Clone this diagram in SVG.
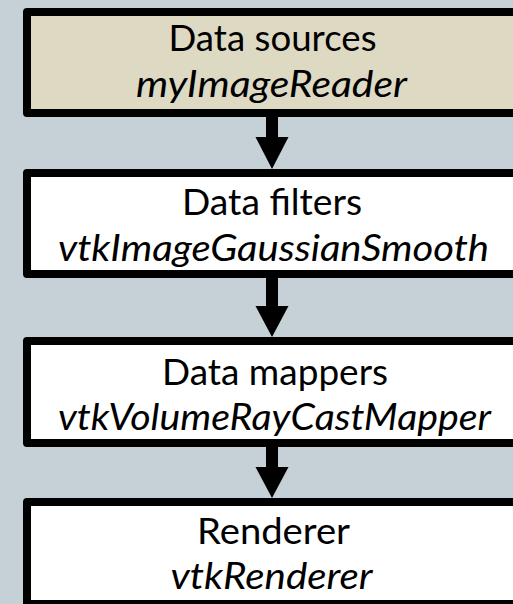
<svg xmlns="http://www.w3.org/2000/svg" width="513" height="604" viewBox="0 0 513 604">
<style>
.box{stroke:#000;stroke-width:8;stroke-linejoin:round}
.t{font-family:Lato,"Liberation Sans",sans-serif;font-size:37px;fill:#000;text-anchor:middle}
.i{font-style:italic}
.arr{fill:#000}
</style>
<rect x="0" y="0" width="513" height="604" fill="#C5D0D7"/>
<g id="node-sources">
<rect class="box" x="27" y="12" width="492" height="101" fill="#DDD9C3"/>
<text class="t" x="272.5" y="51" textLength="208" lengthAdjust="spacingAndGlyphs">Data sources</text>
<text class="t i" x="271.5" y="97" textLength="271" lengthAdjust="spacingAndGlyphs">myImageReader</text>
</g>
<g id="node-filters">
<rect class="box" x="27" y="173" width="492" height="101" fill="#FFFFFF"/>
<text class="t" x="272" y="215" textLength="180" lengthAdjust="spacingAndGlyphs">Data filters</text>
<text class="t i" x="273.5" y="261" textLength="431" lengthAdjust="spacingAndGlyphs">vtkImageGaussianSmooth</text>
</g>
<g id="node-mappers">
<rect class="box" x="27" y="341" width="492" height="102" fill="#FFFFFF"/>
<text class="t" x="275" y="385" textLength="226" lengthAdjust="spacingAndGlyphs">Data mappers</text>
<text class="t i" x="274.5" y="430" textLength="433" lengthAdjust="spacingAndGlyphs">vtkVolumeRayCastMapper</text>
</g>
<g id="node-renderer">
<rect class="box" x="27" y="502" width="492" height="102" fill="#FFFFFF"/>
<text class="t" x="273.5" y="544" textLength="153" lengthAdjust="spacingAndGlyphs">Renderer</text>
<text class="t i" x="271.5" y="589" textLength="202" lengthAdjust="spacingAndGlyphs">vtkRenderer</text>
</g>
<g id="connectors">
<path class="arr" d="M266 117H278V137H288.5L272 169L255.5 137H266Z"/>
<path class="arr" d="M266 278H278V306H288.5L272 337L255.5 306H266Z"/>
<path class="arr" d="M266 447H278V467H288.5L272 498L255.5 467H266Z"/>
</g>
</svg>
